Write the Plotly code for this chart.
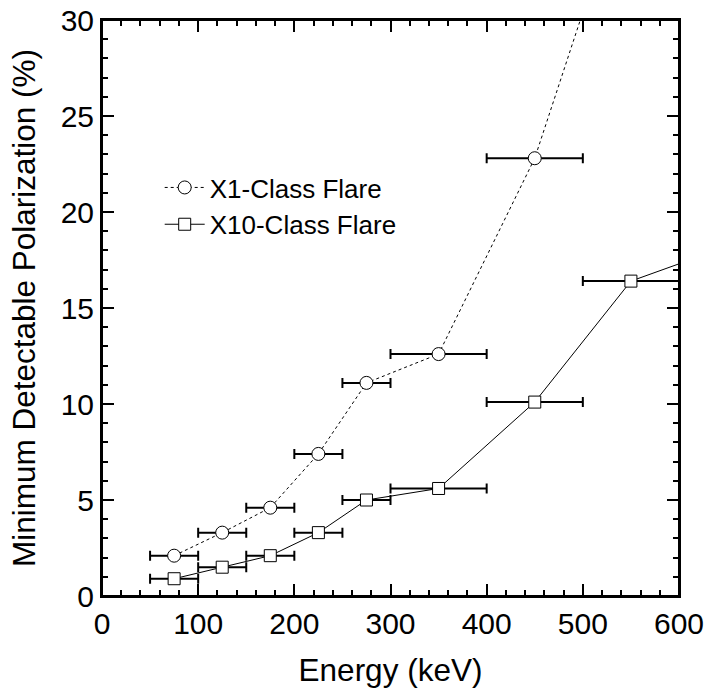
import plotly.graph_objects as go

# Data
energy = [75, 125, 175, 225, 275, 350, 450, 550, 650]

x1_mdp = [2.1, 3.3, 4.6, 7.4, 11.1, 12.6, 22.8, 38.0]
x1_err = [25, 25, 25, 25, 25, 50, 50, None]

x10_mdp = [0.9, 1.5, 2.1, 3.3, 5.0, 5.6, 10.1, 16.4, 18.2]
x10_err = [25, 25, 25, 25, 25, 50, 50, 50, None]

x_range = [0, 600]
y_range = [0, 30]

font_family = "Liberation Sans, Arial, sans-serif"

fig = go.Figure()

fig.add_trace(go.Scatter(
    x=energy[:len(x1_mdp)], y=x1_mdp, name="X1-Class Flare",
    mode="lines+markers",
    line=dict(color="black", width=1, dash="3px,3px"),
    marker=dict(symbol="circle", size=13, color="white",
                line=dict(color="black", width=1)),
    error_x=dict(type="data", array=x1_err, color="black", thickness=2, width=5),
))

fig.add_trace(go.Scatter(
    x=energy, y=x10_mdp, name="X10-Class Flare",
    mode="lines+markers",
    line=dict(color="black", width=1),
    marker=dict(symbol="square", size=12, color="white",
                line=dict(color="black", width=1)),
    error_x=dict(type="data", array=x10_err, color="black", thickness=2, width=5),
))

# invisible trace so the top (mirror) axis is drawn
fig.add_trace(go.Scatter(
    x=x_range, y=[None, None], xaxis="x2", mode="lines",
    showlegend=False, hoverinfo="skip",
))

axis_common = dict(
    showline=True, linecolor="black", linewidth=2, mirror="ticks",
    ticks="inside", ticklen=12, tickwidth=2, tickcolor="black",
    showgrid=False, zeroline=False, automargin=False,
    ticklabeloverflow="allow",
    tickfont=dict(family=font_family, size=30, color="black"),
)

fig.update_xaxes(
    range=x_range, dtick=100, tick0=0,
    minor=dict(ticks="inside", dtick=20, ticklen=6, tickwidth=2, tickcolor="black"),
    title=dict(text="Energy (keV)", font=dict(family=font_family, size=31.5, color="black"), standoff=20),
    selector=dict(anchor="y"),
    **axis_common,
)
fig.update_layout(xaxis=dict(
    range=x_range, dtick=100, tick0=0,
    minor=dict(ticks="inside", dtick=20, ticklen=6, tickwidth=2, tickcolor="black"),
    title=dict(text="Energy (keV)", font=dict(family=font_family, size=31.5, color="black"), standoff=20),
    **axis_common,
))
fig.update_yaxes(
    range=y_range, dtick=5, tick0=0,
    minor=dict(ticks="inside", dtick=1, ticklen=6, tickwidth=2, tickcolor="black"),
    title=dict(text="Minimum Detectable Polarization (%)", font=dict(family=font_family, size=31.5, color="black"), standoff=16),
    **axis_common,
)

fig.update_layout(
    width=709, height=690,
    margin=dict(l=102, r=30, t=20, b=94),
    plot_bgcolor="white", paper_bgcolor="white",
    font=dict(family=font_family, color="black"),
    xaxis2=dict(
        overlaying="x", side="top", anchor="y", range=x_range, dtick=100, tick0=0,
        showline=True, linecolor="black", linewidth=2,
        ticks="inside", ticklen=12, tickwidth=2, tickcolor="black",
        minor=dict(ticks="inside", dtick=20, ticklen=6, tickwidth=2, tickcolor="black"),
        showticklabels=False, showgrid=False, zeroline=False, automargin=False,
        fixedrange=True,
    ),
    shapes=[dict(type="rect", xref="paper", yref="paper", x0=0, x1=1, y0=0, y1=1,
                 line=dict(color="black", width=2), fillcolor="rgba(0,0,0,0)",
                 layer="above")],
    legend=dict(x=0.1, y=0.677, xanchor="left", yanchor="middle",
                font=dict(family=font_family, size=26, color="black"),
                bgcolor="rgba(0,0,0,0)", itemwidth=40),
    showlegend=True,
)

fig.write_html(
    "out.html",
    config={"displayModeBar": False},
    post_script="document.body.style.margin='0';document.body.style.overflow='hidden';",
)
